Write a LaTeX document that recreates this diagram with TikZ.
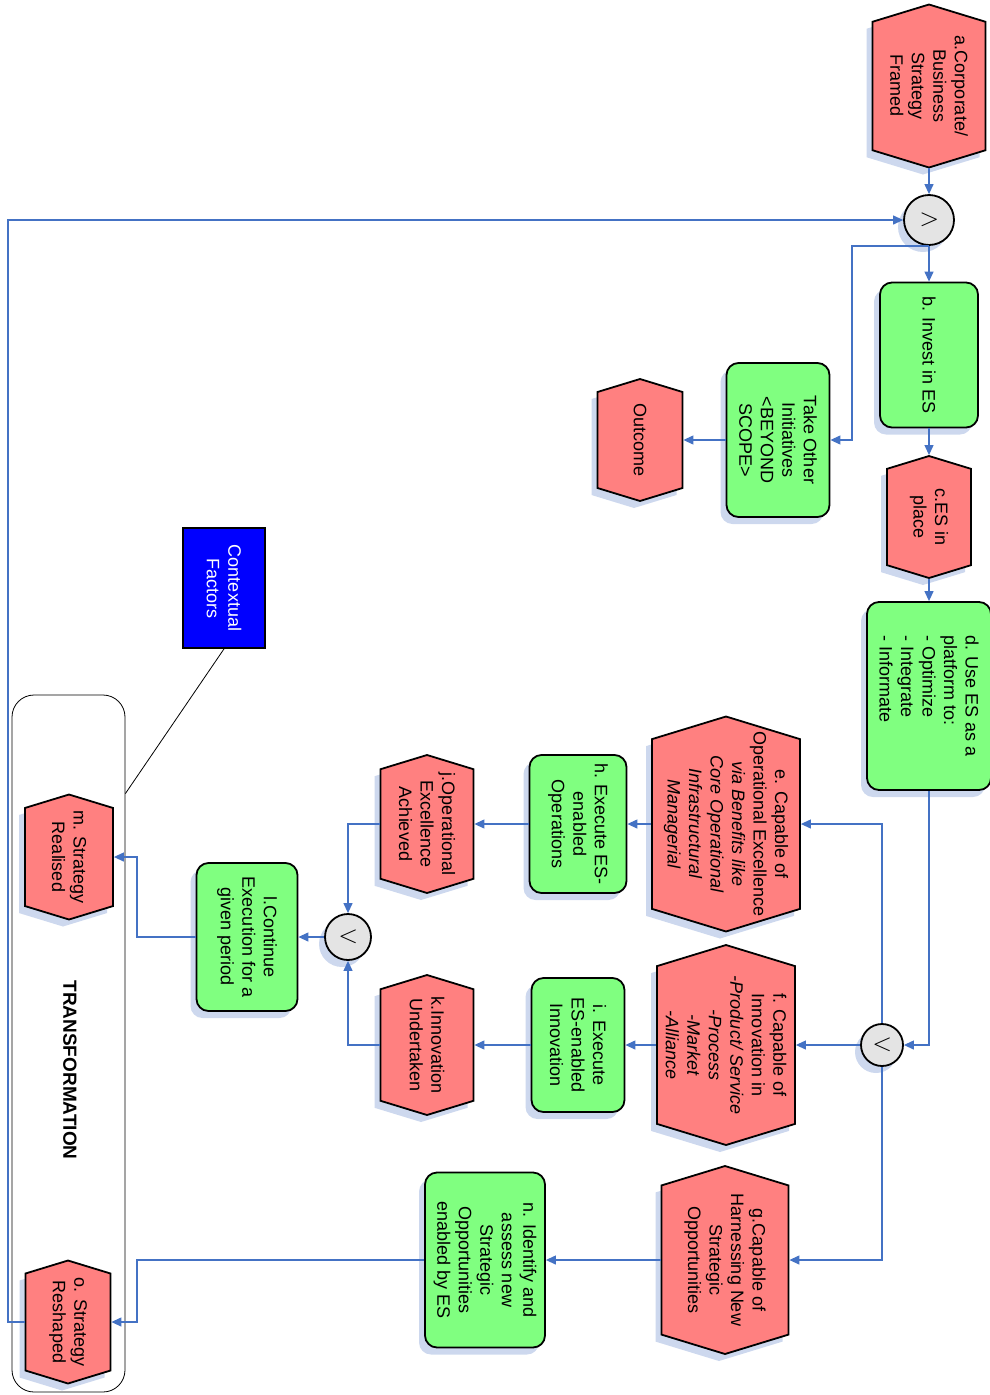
\documentclass[tikz,border=0pt]{standalone}
\usepackage{fontspec}
\setmainfont{Liberation Sans}
\usetikzlibrary{shapes.symbols,arrows.meta}

\definecolor{evred}{RGB}{255,128,128}
\definecolor{fngreen}{RGB}{128,255,128}
\definecolor{gategray}{RGB}{228,228,228}
\definecolor{flowblue}{RGB}{68,114,196}
\definecolor{shadowblue}{RGB}{205,216,238}

\tikzset{
  base/.style={draw=black, line width=1.8pt, inner sep=0pt,
    preaction={fill=shadowblue, transform canvas={xshift=-6pt, yshift=-7pt}}},
  event/.style={base, shape=signal, signal to=north and south, signal pointer angle=146, fill=evred},
  evsize/.style 2 args={minimum width=#1pt, minimum height=#2pt-0.3057*#1pt},
  func/.style={base, shape=rectangle, rounded corners=12pt, fill=fngreen},
  gate/.style={base, shape=circle, fill=gategray},
  vtxt/.style={rotate=-90, align=center, inner sep=0pt, font=\fontsize{18}{21.5}\selectfont},
  gtxt/.style={vtxt, font=\fontsize{26}{26}\selectfont},
  flow/.style={draw=flowblue, line width=1.2pt, -{Triangle[length=10pt,width=9pt]}},
}

\begin{document}
\begin{tikzpicture}[x=1pt,y=-1pt]
\useasboundingbox (0,0) rectangle (990,1395);

% container for the outcomes
\node [draw=black, line width=0.8pt, rounded corners=22pt, minimum width=113pt, minimum height=697pt] (trans) at (68.5,1043.5) {};
\node [vtxt, font=\bfseries\fontsize{19}{22}\selectfont] (tlabel) at (70,1070) {TRANSFORMATION};

\coordinate (loopL) at (8,0);
\coordinate (split1) at (852,0);
\coordinate (colx) at (137,0);

% top column
\node [event, evsize={113}{163}, label={[vtxt]center:{a.Corporate/\\Business\\Strategy\\Framed}}] (a) at (929,86) {};
\node [gate, minimum size=50pt, label={[gtxt]center:{$\wedge$}}] (g1) at (929,220) {};
\node [func, minimum width=98pt, minimum height=145pt, label={[vtxt]center:{b. Invest in ES}}] (b) at (929,355) {};
\node [event, evsize={84}{122}, label={[vtxt]center:{c.ES in\\place}}] (c) at (929,517) {};
\node [func, minimum width=124pt, minimum height=188pt, label={[vtxt, align=left]center:{d. Use ES as a\\platform to:\\- Optimize\\- Integrate\\- Informate}}] (d) at (929,696) {};
\node [func, minimum width=103pt, minimum height=154pt, label={[vtxt]center:{Take Other\\Initiatives\\<BEYOND\\SCOPE>}}] (tk) at (778,440) {};
\node [event, evsize={85}{122}, label={[vtxt]center:{Outcome}}] (out) at (640,440) {};

% capabilities
\node [gate, minimum size=42pt, label={[gtxt]center:{$\vee$}}] (v2) at (882,1045) {};
\node [event, evsize={148}{215}, label={[vtxt]center:{e. Capable of\\Operational Excellence\\\textit{via Benefits like}\\\textit{Core Operational}\\\textit{Infrastructural}\\\textit{Managerial}}}] (e) at (726,824) {};
\node [event, evsize={138}{200}, label={[vtxt]center:{f. Capable of\\Innovation in\\\textit{-Product/ Service}\\\textit{-Process}\\\textit{-Market}\\\textit{-Alliance}}}] (f) at (726,1045) {};
\node [event, evsize={127}{188}, label={[vtxt]center:{g.Capable of\\Harnessing New\\Strategic\\Opportunities}}] (g) at (725,1260) {};

% execution
\node [func, minimum width=97pt, minimum height=138pt, label={[vtxt]center:{h. Execute ES-\\enabled\\Operations}}] (h) at (578,824) {};
\node [func, minimum width=93pt, minimum height=134pt, label={[vtxt]center:{i. Execute\\ES-enabled\\Innovation}}] (i) at (578,1045) {};
\node [func, minimum width=120pt, minimum height=175pt, label={[vtxt]center:{n. Identify and\\assess new\\Strategic\\Opportunities\\enabled by ES}}] (n) at (485,1260) {};
\node [event, evsize={93}{138}, label={[vtxt]center:{j.Operational\\Excellence\\Achieved}}] (j) at (427,824) {};
\node [event, evsize={93}{140}, label={[vtxt]center:{k.Innovation\\Undertaken}}] (k) at (427,1045) {};
\node [gate, minimum size=46pt, label={[gtxt]center:{$\vee$}}] (v3) at (348,937) {};
\node [func, minimum width=101pt, minimum height=148pt, label={[vtxt]center:{l.Continue\\Execution for a\\given period}}] (l) at (247,937) {};

% results
\node [event, evsize={88}{125}, label={[vtxt]center:{m. Strategy\\Realised}}] (m) at (69,857) {};
\node [event, evsize={85}{123}, label={[vtxt]center:{o. Strategy\\Reshaped}}] (o) at (68,1322) {};
\node [draw=black, line width=1.8pt, fill=blue, minimum width=82pt, minimum height=120pt, label={[vtxt, text=white]center:{Contextual\\Factors}}] (cf) at (224,588) {};

\draw[flow] (a) -- (g1);
\draw[flow] (g1) -- (b);
\draw[flow] (g1.south) -- (g1.south -| split1) |- (tk.east);
\draw[flow] (tk) -- (out);
\draw[flow] (b) -- (c);
\draw[flow] (c) -- (d);
\draw[flow] (d.south) |- (v2.east);
\draw[flow] (v2.north) |- (e.east);
\draw[flow] (v2) -- (f);
\draw[flow] (v2.south) |- (g.east);
\draw[flow] (e) -- (h);
\draw[flow] (f) -- (i);
\draw[flow] (g) -- (n);
\draw[flow] (h) -- (j);
\draw[flow] (i) -- (k);
\draw[flow] (j.west) -| (v3.north);
\draw[flow] (k.west) -| (v3.south);
\draw[flow] (v3) -- (l);
\draw[flow] (l.west) -- (l.west -| colx) |- (m.east);
\draw[flow] (n.west) -- (n.west -| colx) |- (o.east);
\draw[flow] (o.west) -- (o.west -| loopL) |- (g1.west);
\draw[line width=0.8pt] (cf.south) -- (m.north -| trans.east);
\end{tikzpicture}
\end{document}
